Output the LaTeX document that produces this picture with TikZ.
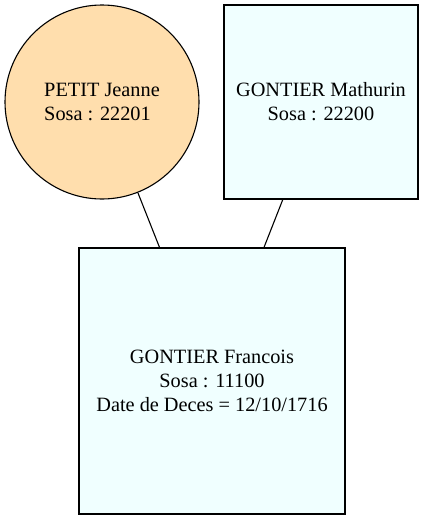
\documentclass[tikz,border=0pt]{standalone}
\usepackage{fontspec}
\setmainfont{Liberation Serif}
\definecolor{navajo}{HTML}{FFDEAD}
\definecolor{azurefill}{HTML}{F0FFFF}
\begin{document}
\begin{tikzpicture}[x=1pt,y=-1pt,
  every node/.style={font=\fontsize{20.3}{24}\selectfont, align=center, inner sep=0pt, line width=1.1pt},
  person/.style={draw=black, fill=azurefill, rectangle},
  personc/.style={draw=black, fill=navajo, circle},
  link/.style={draw=black, line width=1.1pt}]
\useasboundingbox (0,0) rectangle (424,520);
\node[personc, minimum size=194pt, align=left] (jeanne) at (102,102) {PETIT Jeanne\\Sosa : 22201};
\node[person, minimum width=194pt, minimum height=194pt] (mathurin) at (321,102) {GONTIER Mathurin\\Sosa : 22200};
\node[person, minimum width=266pt, minimum height=266pt] (francois) at (212,381) {GONTIER Francois\\Sosa : 11100\\Date de Deces = 12/10/1716};
\draw[link] (jeanne) -- (francois);
\draw[link] (mathurin) -- (francois);
\end{tikzpicture}
\end{document}
